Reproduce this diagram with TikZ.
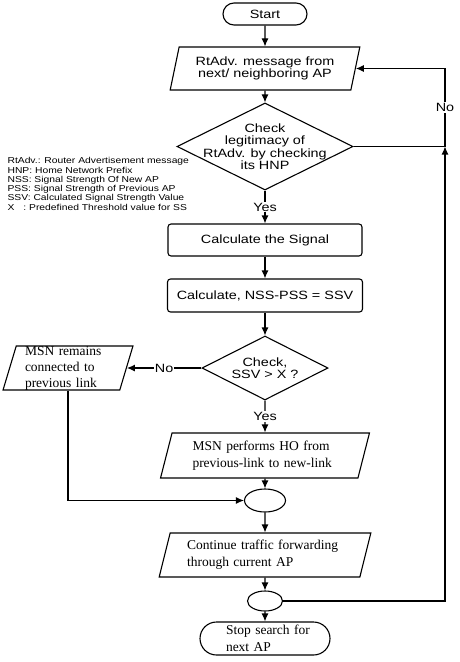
\documentclass[tikz,border=0pt]{standalone}
\usepackage{fontspec}
\newfontfamily\sff[FakeStretch=1.2]{Liberation Sans}
\newfontfamily\rmf{Liberation Serif}
\usetikzlibrary{shapes.geometric,shapes.misc,arrows.meta}

\begin{document}
\begin{tikzpicture}[
    x=1pt, y=-1pt,
    >={Latex[length=8pt,width=7pt]},
    line width=1.1pt,
    box/.style = {draw, align=center, inner sep=0pt},
    term/.style = {box, rounded rectangle},
    io/.style = {box, trapezium, trapezium left angle=73, trapezium right angle=107, trapezium stretches},
    proc/.style = {box, rectangle, rounded corners=3pt},
    dec/.style = {box, diamond, aspect=2},
    merge/.style = {box, ellipse},
    sans/.style = {font=\sff\fontsize{12}{12.5}\selectfont},
    serif/.style = {font=\rmf\fontsize{13.5}{17}\selectfont, align=left},
    tag/.style = {fill=white, inner sep=1pt, font=\sff\fontsize{12}{12}\selectfont}
    ]
    \useasboundingbox (0,0) rectangle (460,662);
    \node[term, sans, minimum width=84pt, minimum height=22pt] (start) at (265,14) {Start};
    \node[io, sans, minimum width=190pt, minimum height=43pt] (adv) at (265,68.5) {RtAdv. message from\\next/ neighboring AP};
    \node[dec, sans, minimum width=176pt, minimum height=87pt, inner sep=-12pt] (legit) at (265,146.5) {Check\\legitimacy of\\RtAdv. by checking\\its HNP};
    \node[anchor=north west, inner sep=0pt, align=left, font=\sff\fontsize{8.6}{9.3}\selectfont] (key) at (7,157)
        {RtAdv.: Router Advertisement message\\HNP: Home Network Prefix\\NSS: Signal Strength Of New AP\\PSS: Signal Strength of Previous AP\\SSV: Calculated Signal Strength Value\\X\hspace{9pt}: Predefined Threshold value for SS};
    \node[proc, sans, minimum width=194pt, minimum height=32pt] (sig) at (265,240) {Calculate the Signal};
    \node[proc, sans, minimum width=195pt, minimum height=33pt] (ssv) at (265,295.5) {Calculate, NSS-PSS = SSV};
    \node[dec, sans, minimum width=126pt, minimum height=64pt] (thr) at (265,368) {Check,\\SSV > X ?};
    \node[io, serif, minimum width=130pt, minimum height=44pt, text width=86pt, inner ysep=-4pt,
        font=\rmf\fontsize{13.5}{16}\selectfont] (stay) at (68,368) {MSN remains\\connected to\\previous link};
    \node[io, serif, minimum width=209pt, minimum height=45pt, text width=145pt] (ho) at (265,455.5) {MSN performs HO from\\previous-link to new-link};
    \node[merge, minimum width=41pt, minimum height=23pt] (join) at (265,500.5) {};
    \node[io, serif, minimum width=212pt, minimum height=44pt, text width=156pt] (fwd) at (265,555) {Continue traffic forwarding\\through current AP};
    \node[merge, minimum width=35pt, minimum height=20pt] (fork) at (265,601) {};
    \node[term, serif, minimum width=130pt, minimum height=33pt, text width=90pt,
        font=\rmf\fontsize{13.5}{17}\selectfont] (stop) at (265,638.5) {\hspace*{6pt}Stop search for\\\hspace*{6pt}next AP};
    \coordinate (loop) at (445,146.5);
    \draw[->] (start) -- (adv);
    \draw[->] (adv) -- (legit);
    \draw[->] (legit) -- node[tag] {Yes} (sig);
    \draw[->] (sig) -- (ssv);
    \draw[->] (ssv) -- (thr);
    \draw[->] (thr) -- node[tag] {No} (stay);
    \draw[->] (thr) -- node[tag] {Yes} (ho);
    \draw[->] (ho) -- (join);
    \draw[->] (stay.south) |- (join.west);
    \draw[->] (join) -- (fwd);
    \draw[->] (fwd) -- (fork);
    \draw[->] (fork) -- (stop);
    \draw[->] (fork.east) -| (loop);
    \draw[->] (legit.east) -- (loop) |- node[tag, pos=0.25] {No} (adv.east);
\end{tikzpicture}
\end{document}
